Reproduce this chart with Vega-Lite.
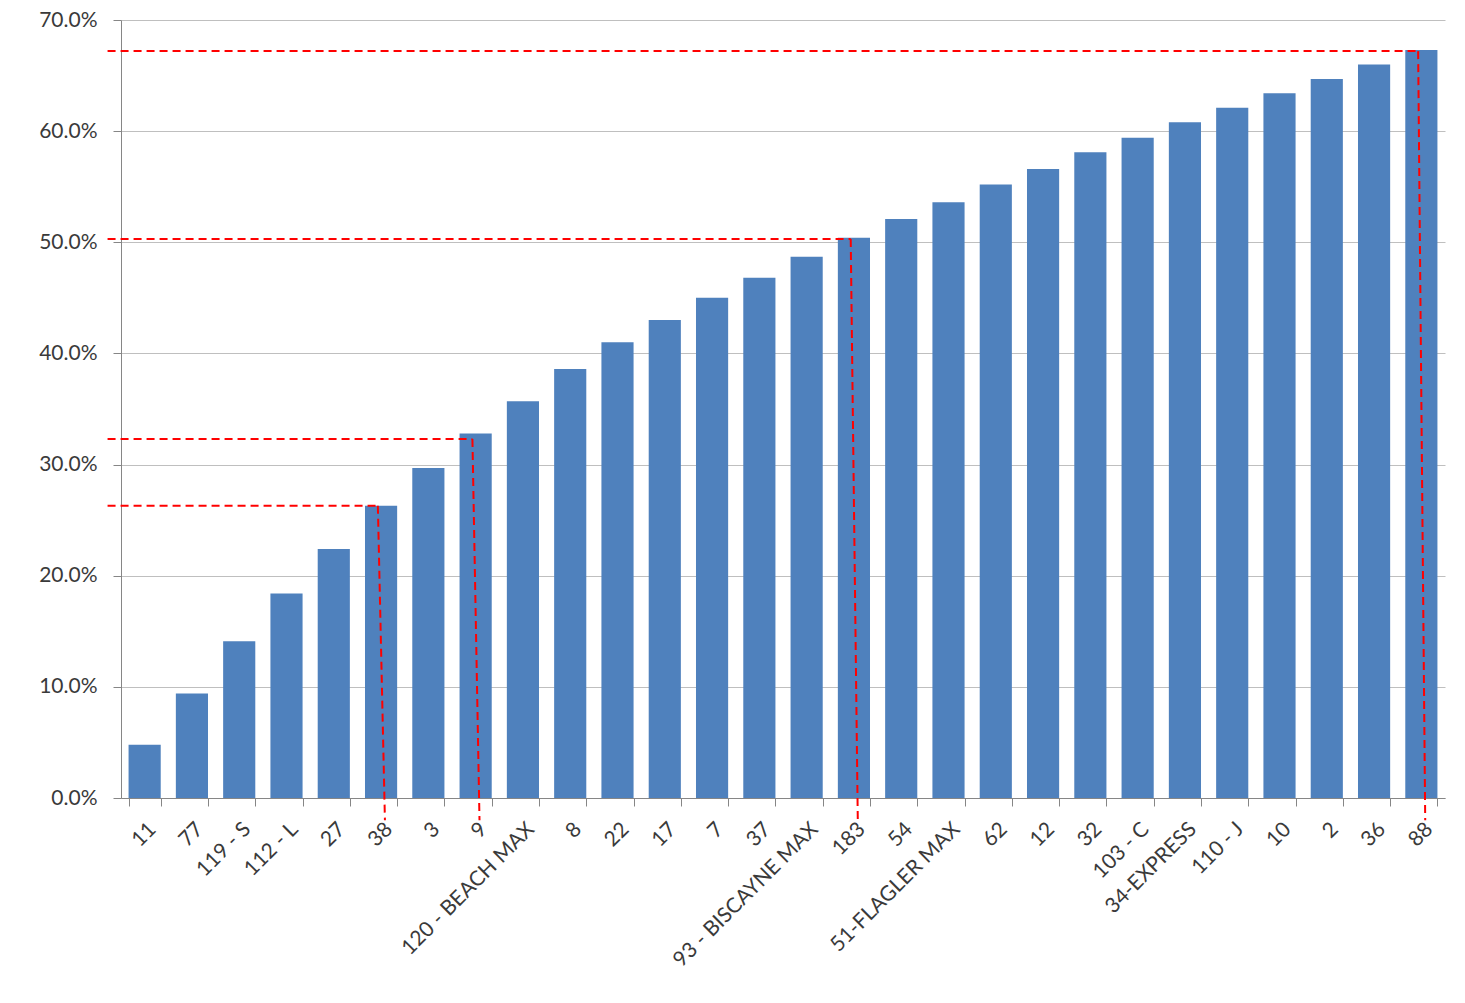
{
  "$schema": "https://vega.github.io/schema/vega-lite/v6.json",
  "width": 1324,
  "height": 778,
  "autosize": "none",
  "padding": {"left": 121, "top": 20, "right": 20, "bottom": 205},
  "background": "white",
  "config": {"view": {"stroke": null}, "font": "Lato"},
  "datasets": {
    "bars": [
      {"route": "11", "share": 0.048},
      {"route": "77", "share": 0.094},
      {"route": "119 - S", "share": 0.141},
      {"route": "112 - L", "share": 0.184},
      {"route": "27", "share": 0.224},
      {"route": "38", "share": 0.263},
      {"route": "3", "share": 0.297},
      {"route": "9", "share": 0.328},
      {"route": "120 - BEACH MAX", "share": 0.357},
      {"route": "8", "share": 0.386},
      {"route": "22", "share": 0.41},
      {"route": "17", "share": 0.43},
      {"route": "7", "share": 0.45},
      {"route": "37", "share": 0.468},
      {"route": "93 - BISCAYNE MAX", "share": 0.487},
      {"route": "183", "share": 0.504},
      {"route": "54", "share": 0.521},
      {"route": "51-FLAGLER MAX", "share": 0.536},
      {"route": "62", "share": 0.552},
      {"route": "12", "share": 0.566},
      {"route": "32", "share": 0.581},
      {"route": "103 - C", "share": 0.594},
      {"route": "34-EXPRESS", "share": 0.608},
      {"route": "110 - J", "share": 0.621},
      {"route": "10", "share": 0.634},
      {"route": "2", "share": 0.647},
      {"route": "36", "share": 0.66},
      {"route": "88", "share": 0.673}
    ],
    "refs": [
      {"start": "11", "route": "38", "v": 0.263},
      {"start": "11", "route": "9", "v": 0.323},
      {"start": "11", "route": "183", "v": 0.503},
      {"start": "11", "route": "88", "v": 0.672}
    ]
  },
  "layer": [
    {
      "data": {"name": "bars"},
      "mark": {"type": "bar", "color": "#4F81BD"},
      "encoding": {
        "x": {
          "field": "route",
          "type": "nominal",
          "scale": {
            "domain": ["11", "77", "119 - S", "112 - L", "27", "38", "3", "9", "120 - BEACH MAX", "8", "22", "17", "7", "37", "93 - BISCAYNE MAX", "183", "54", "51-FLAGLER MAX", "62", "12", "32", "103 - C", "34-EXPRESS", "110 - J", "10", "2", "36", "88"],
            "paddingInner": 0.32,
            "paddingOuter": 0.16
          },
          "axis": {
            "title": null,
            "labelAngle": -45,
            "labelFontSize": 21,
            "labelColor": "#3A3A3A",
            "labelPadding": 12,
            "labelLimit": 400,
            "tickBand": "extent",
            "tickSize": 8,
            "tickColor": "#868686",
            "domainColor": "#868686",
            "grid": false
          }
        },
        "y": {
          "field": "share",
          "type": "quantitative",
          "scale": {"domain": [0, 0.7], "nice": false},
          "axis": {
            "title": null,
            "format": ".1%",
            "values": [0, 0.1, 0.2, 0.3, 0.4, 0.5, 0.6, 0.7],
            "labelFontSize": 21,
            "labelColor": "#3A3A3A",
            "labelPadding": 16,
            "tickSize": 8,
            "tickColor": "#868686",
            "domainColor": "#868686",
            "grid": true,
            "gridColor": "#BFBFBF"
          }
        }
      }
    },
    {
      "data": {"name": "refs"},
      "mark": {"type": "rule", "color": "#FF0000", "strokeDash": [8, 5], "strokeWidth": 2, "xOffset": -21, "x2Offset": 0},
      "encoding": {
        "x": {"field": "start", "type": "nominal", "bandPosition": 0},
        "x2": {"field": "route", "bandPosition": 0.4},
        "y": {"field": "v", "type": "quantitative"}
      }
    },
    {
      "data": {"name": "refs"},
      "mark": {"type": "rule", "color": "#FF0000", "strokeDash": [8, 5], "strokeWidth": 2},
      "encoding": {
        "x": {"field": "route", "type": "nominal", "bandPosition": 0.4},
        "x2": {"field": "route", "bandPosition": 0.62},
        "y": {"field": "v", "type": "quantitative"},
        "y2": {"datum": -0.02}
      }
    }
  ]
}
